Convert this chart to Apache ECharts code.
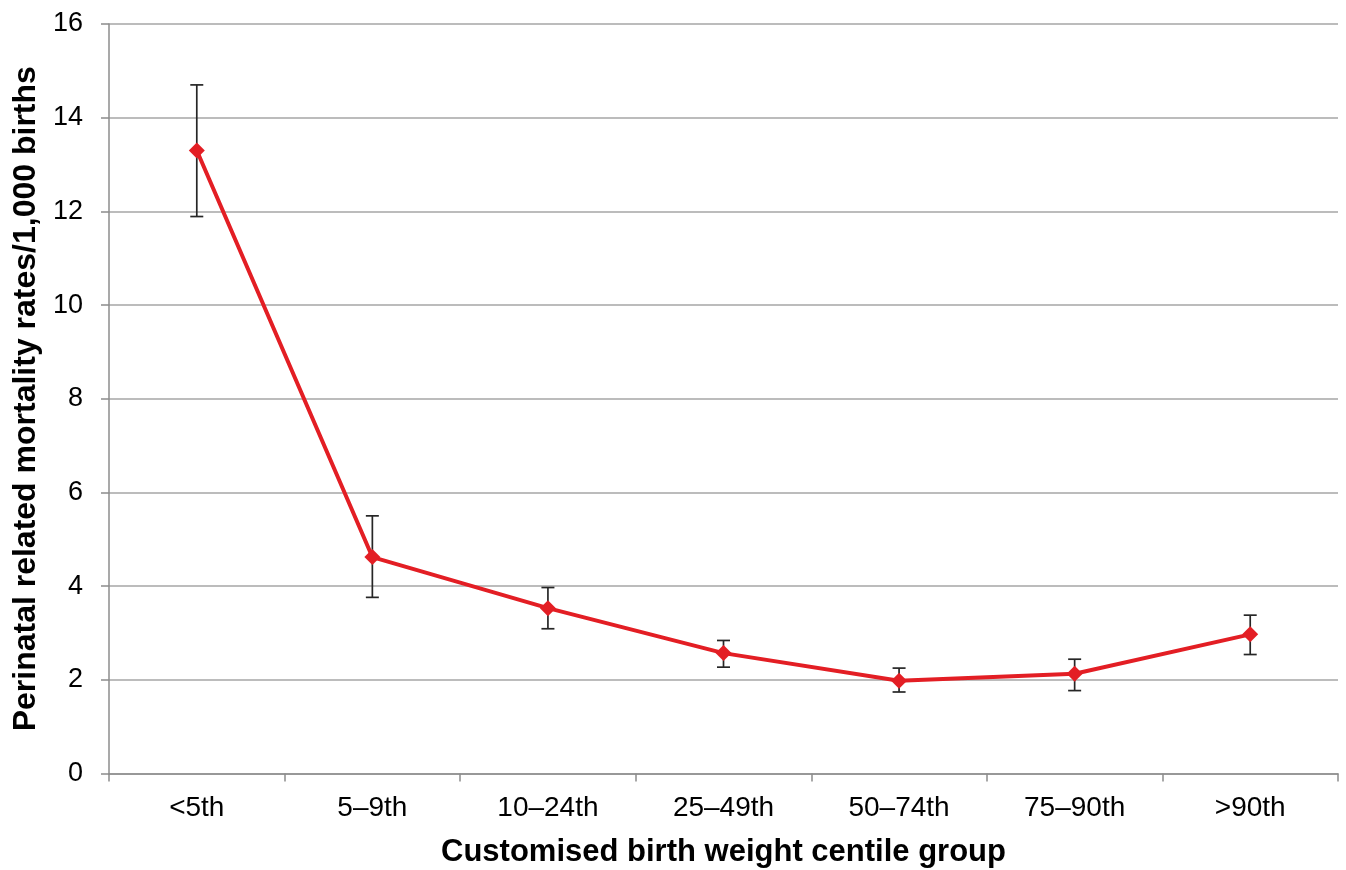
<!DOCTYPE html>
<html>
<head>
<meta charset="utf-8">
<script src="https://cdn.jsdelivr.net/npm/echarts@6/dist/echarts.min.js"></script>
<style>html,body{margin:0;padding:0;background:#fff}#c{width:1346px;height:870px}</style>
</head>
<body>
<div id="c"></div>
<script>
var categories = ['<5th', '5–9th', '10–24th', '25–49th', '50–74th', '75–90th', '>90th'];
var rates = [13.30, 4.62, 3.53, 2.57, 1.98, 2.13, 2.97];
var lower = [11.89, 3.76, 3.09, 2.27, 1.74, 1.77, 2.54];
var upper = [14.70, 5.50, 3.97, 2.84, 2.25, 2.44, 3.38];
var yTicks = [0, 2, 4, 6, 8, 10, 12, 14, 16];

var chart = echarts.init(document.getElementById('c'));
var errData = categories.map(function (c, i) { return [i, lower[i], upper[i]]; });
chart.setOption({
  animation: false,
  grid: { left: 109, right: 8, top: 24, bottom: 96.5, containLabel: false, outerBoundsMode: 'none' },
  xAxis: {
    type: 'category',
    data: categories,
    boundaryGap: true,
    name: 'Customised birth weight centile group',
    nameLocation: 'middle',
    nameGap: 63,
    nameTextStyle: { fontFamily: 'Liberation Sans', fontWeight: 'bold', fontSize: 31, color: '#000' },
    axisLine: { lineStyle: { color: '#8c8c8c', width: 1.5 } },
    axisTick: { show: true, length: 8, lineStyle: { color: '#8c8c8c', width: 1.5 } },
    axisLabel: { fontFamily: 'Liberation Sans', fontSize: 28, color: '#000', margin: 21 }
  },
  yAxis: {
    type: 'value',
    min: yTicks[0],
    max: yTicks[yTicks.length - 1],
    interval: 2,
    name: 'Perinatal related mortality rates/1,000 births',
    nameLocation: 'middle',
    nameGap: 63,
    nameTextStyle: { fontFamily: 'Liberation Sans', fontWeight: 'bold', fontSize: 32, color: '#000' },
    axisLine: { show: true, lineStyle: { color: '#8c8c8c', width: 1.5 } },
    axisTick: { show: true, length: 8, lineStyle: { color: '#8c8c8c', width: 1.5 } },
    axisLabel: { fontFamily: 'Liberation Sans', fontSize: 27, color: '#000', margin: 26 },
    splitLine: { lineStyle: { color: '#a6a6a6', width: 1.5 } }
  },
  series: [
    {
      type: 'custom',
      data: errData,
      z: 1,
      renderItem: function (params, api) {
        var x = api.value(0);
        var lo = api.coord([x, api.value(1)]);
        var hi = api.coord([x, api.value(2)]);
        var hw = 6.5;
        var st = { stroke: '#262626', lineWidth: 1.7 };
        return {
          type: 'group',
          children: [
            { type: 'line', shape: { x1: lo[0], y1: lo[1], x2: hi[0], y2: hi[1] }, style: st },
            { type: 'line', shape: { x1: lo[0] - hw, y1: lo[1], x2: lo[0] + hw, y2: lo[1] }, style: st },
            { type: 'line', shape: { x1: hi[0] - hw, y1: hi[1], x2: hi[0] + hw, y2: hi[1] }, style: st }
          ]
        };
      }
    },
    {
      type: 'line',
      data: rates,
      z: 3,
      symbol: 'diamond',
      symbolSize: [16, 16],
      lineStyle: { color: '#e31e24', width: 4 },
      itemStyle: { color: '#e31e24' }
    }
  ]
});
</script>
</body>
</html>
